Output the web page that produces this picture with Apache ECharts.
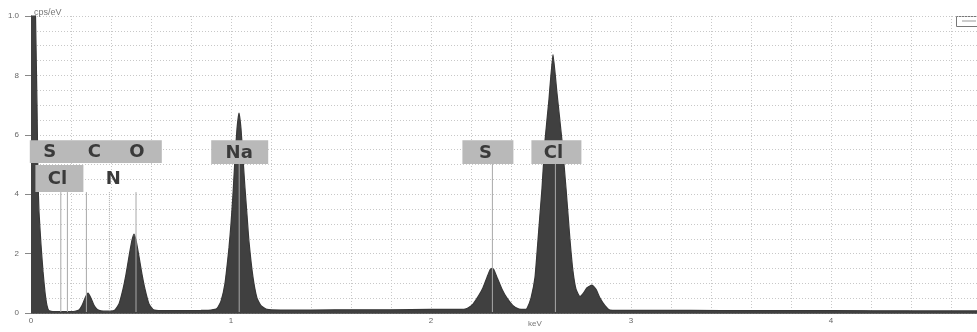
<!DOCTYPE html>
<html><head><meta charset="utf-8">
<script src="https://cdn.jsdelivr.net/npm/echarts@6/dist/echarts.min.js"></script>
<style>html,body{margin:0;padding:0;background:#fff}#c{width:977px;height:332px}</style>
</head><body><div id="c"></div>
<script>
// Spectrum (energy in keV, intensity in cps/eV scaled to the axis)
const energyKeV = [
  0.000,0.010,0.020,0.030,0.035,0.040,0.050,0.060,0.070,0.080,0.090,0.120,0.160,0.200,
  0.220,0.240,0.255,0.270,0.285,0.300,0.315,0.330,0.350,0.380,
  0.400,0.420,0.440,0.460,0.475,0.490,0.505,0.515,0.525,0.540,0.555,0.570,0.590,0.610,0.650,
  0.750,0.850,0.900,0.930,0.950,0.970,0.990,1.000,1.010,1.020,1.030,1.040,1.050,1.060,1.070,
  1.080,1.090,1.110,1.130,1.150,1.180,1.250,1.400,1.600,1.800,2.000,
  2.150,2.180,2.210,2.240,2.260,2.280,2.295,2.305,2.315,2.330,2.355,2.380,2.410,2.440,2.470,
  2.480,2.500,2.520,2.535,2.555,2.570,2.590,2.610,2.630,2.655,2.675,2.695,2.710,2.725,
  2.745,2.760,2.780,2.805,2.825,2.845,2.870,2.895,3.000,3.300,3.600,4.000,4.400,4.730
];
const intensity = [
  1.60,1.40,1.10,0.70,0.45,0.34,0.23,0.14,0.07,0.025,0.008,0.005,0.005,0.005,
  0.006,0.010,0.025,0.050,0.067,0.050,0.026,0.013,0.007,0.006,
  0.006,0.010,0.030,0.080,0.130,0.190,0.245,0.266,0.245,0.190,0.130,0.080,0.030,0.012,0.008,
  0.008,0.009,0.010,0.015,0.040,0.100,0.220,0.300,0.400,0.520,0.620,0.673,0.620,0.520,0.420,
  0.330,0.240,0.120,0.050,0.025,0.012,0.010,0.010,0.011,0.011,0.012,
  0.012,0.015,0.030,0.060,0.085,0.120,0.145,0.150,0.145,0.120,0.080,0.050,0.025,0.013,0.012,
  0.015,0.050,0.120,0.246,0.420,0.580,0.720,0.870,0.740,0.580,0.420,0.246,0.140,0.080,
  0.055,0.065,0.085,0.094,0.080,0.050,0.025,0.010,0.009,0.009,0.008,0.008,0.007,0.007
];
const xTickLabels = ['0','1','2','3','4'];
const yTickLabels = ['0','2','4','6','8','1.0'];
const elementNames = ['S','Cl','C','N','O','Na','S','Cl'];
const elementEnergies = [0.149,0.182,0.277,0.392,0.525,1.041,2.307,2.622];

// label placement (style only)
const rows = {
  r1:  {top:0.582, bottom:0.505, line:0.407},
  r2:  {top:0.498, bottom:0.407, line:0.407},
  big: {top:0.582, bottom:0.502, line:0.502}
};
const labelStyle = [
  {row:'r1', dx:-11, box:[-31,101]},
  {row:'r2', dx:-10, box:[-32,16]},
  {row:'r1', dx:8},
  {row:'r2', dx:4, dotted:true},
  {row:'r1', dx:1},
  {row:'big', dx:0, box:[-28,29]},
  {row:'big', dx:-7, box:[-30,21]},
  {row:'big', dx:-2, box:[-24,26]}
];

const chart = echarts.init(document.getElementById('c'), null, {renderer:'canvas'});
const gridDot = {color:'#c8c8c8', width:1, type:[1,2]};
chart.setOption({
  animation:false,
  grid:{left:31, right:0, top:16, bottom:19, containLabel:false},
  xAxis:[{
    type:'value', min:0, max:4.73, interval:1,
    axisLine:{show:true, onZero:false, lineStyle:{color:'#444', width:1}},
    axisTick:{show:false},
    axisLabel:{fontSize:8, color:'#666', margin:4, showMaxLabel:false,
      formatter:(v)=>xTickLabels[Math.round(v)] ?? ''},
    splitLine:{show:true, lineStyle:gridDot},
    minorTick:{show:false, splitNumber:5},
    minorSplitLine:{show:true, lineStyle:gridDot}
  },{
    type:'value', position:'top', min:0, max:4.73,
    axisLine:{show:true, lineStyle:{color:'#666', width:1, type:[2,1]}},
    axisTick:{show:false}, axisLabel:{show:false}, splitLine:{show:false}
  }],
  yAxis:{
    type:'value', min:0, max:1, interval:0.2,
    axisLine:{show:true, lineStyle:{color:'#444'}},
    axisTick:{show:true, length:6, lineStyle:{color:'#888'}},
    axisLabel:{fontSize:8, color:'#666', margin:12,
      formatter:(v)=>yTickLabels[Math.round(v/0.2)]},
    splitLine:{show:true, lineStyle:gridDot},
    minorTick:{show:false, splitNumber:4},
    minorSplitLine:{show:true, lineStyle:gridDot}
  },
  series:[{
    type:'line', xAxisIndex:0,
    data: energyKeV.map((e,i)=>[e, intensity[i]]),
    symbol:'none', smooth:0.15, clip:true,
    lineStyle:{color:'#383838', width:1.2},
    areaStyle:{color:'#404040', opacity:1},
    z:2
  },{
    type:'custom', xAxisIndex:0, z:5,
    data: elementEnergies.map((e,i)=>[e, 0, i]),
    encode:{x:0, y:1},
    renderItem:(params, api)=>{
      const i = params.dataIndex;
      const e = api.value(0);
      const st = labelStyle[i];
      const r = rows[st.row];
      const x = api.coord([e, 0])[0];
      const y0 = api.coord([e, 0])[1];
      const yTop = api.coord([e, r.top])[1];
      const yBot = api.coord([e, r.bottom])[1];
      const yLine = api.coord([e, r.line])[1];
      const children = [{
        type:'line',
        shape:{x1:x, y1:yLine, x2:x, y2:y0-1},
        style:{stroke:'#a8a8a8', lineWidth:1, lineDash: st.dotted ? [1,1] : null}
      }];
      if (st.box) {
        children.push({
          type:'rect',
          shape:{x:x+st.box[0], y:yTop, width:st.box[1]-st.box[0], height:yBot-yTop},
          style:{fill:'#b9b9b9'}
        });
      }
      children.push({
        type:'text',
        style:{text:elementNames[i], x:x+st.dx, y:(yTop+yBot)/2+1,
          align:'center', verticalAlign:'middle',
          font:'bold 18px "DejaVu Sans", sans-serif', fill:'#3a3a3a'}
      });
      return {type:'group', children};
    }
  }],
  graphic:[
    {type:'text', left:34, top:8, style:{text:'cps/eV', font:'9px "Liberation Sans", Arial, sans-serif', fill:'#777'}},
    {type:'text', left:528, top:320, style:{text:'keV', font:'8px "Liberation Sans", Arial, sans-serif', fill:'#777'}},
    {type:'rect', left:956, top:16, shape:{width:24, height:10}, style:{fill:'#fff', stroke:'#777', lineWidth:1}},
    {type:'line', shape:{x1:962, y1:21, x2:976, y2:21}, style:{stroke:'#999', lineWidth:1}}
  ]
});
</script>
</body></html>
